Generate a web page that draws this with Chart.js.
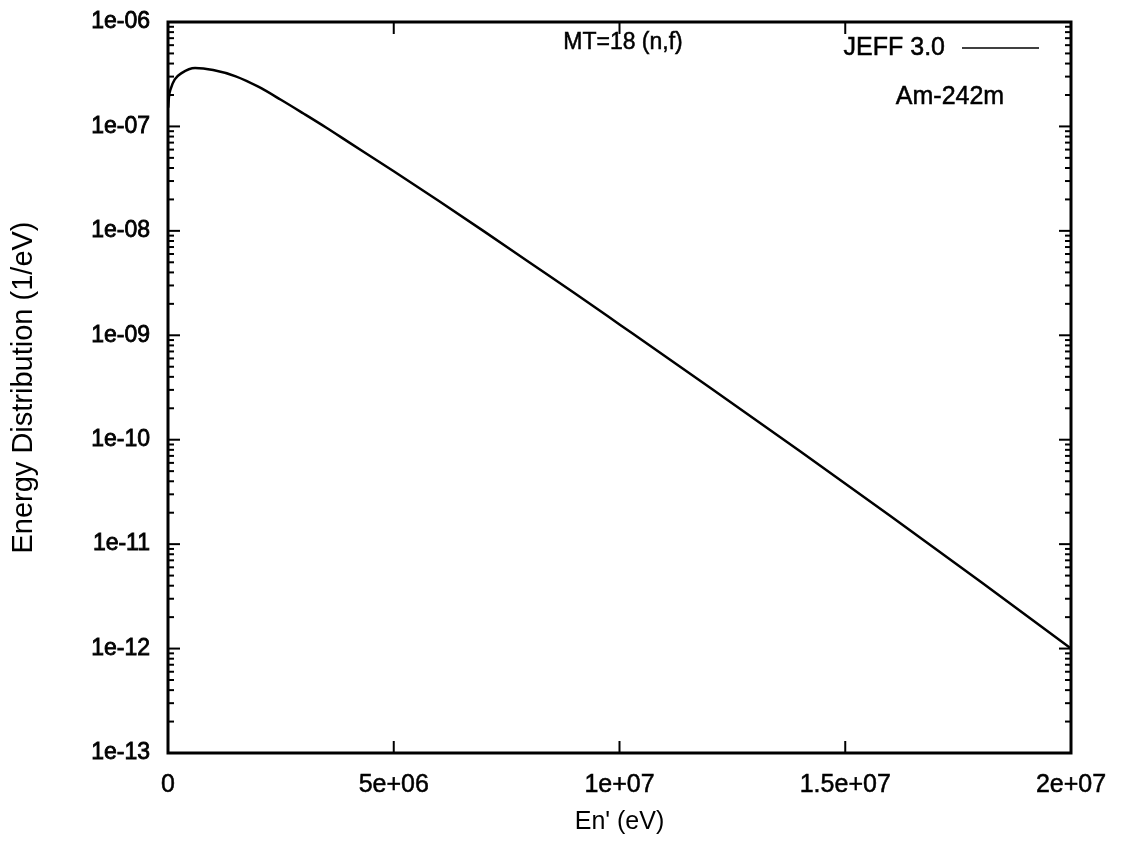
<!DOCTYPE html>
<html>
<head>
<meta charset="utf-8">
<title>Am-242m MT=18 (n,f) energy distribution</title>
<script src="https://cdn.jsdelivr.net/npm/chart.js@4.4.1/dist/chart.umd.min.js"></script>
<style>
  html, body { margin: 0; padding: 0; background: #fff; }
  #wrap { width: 1123px; height: 844px; }
</style>
</head>
<body>
<div id="wrap"><canvas id="spectrum" width="1123" height="844"></canvas></div>
<script>
  // outgoing neutron energy (eV)
  const energies = [
    5e3, 2e4, 6e4, 1.5e5, 3e5, 6e5, 1e6, 1.5e6, 2e6, 2.5e6, 3e6, 3.5e6, 4e6,
    5e6, 6e6, 7e6, 8e6, 9e6, 1e7, 1.2e7, 1.4e7, 1.6e7, 1.8e7, 2e7
  ];
  // energy distribution (1/eV), JEFF 3.0
  const distribution = [
    1.51e-7, 1.9e-7, 2.29e-7, 2.82e-7, 3.24e-7, 3.63e-7, 3.47e-7, 3.02e-7, 2.4e-7, 1.8e-7, 1.33e-7, 9.77e-8, 7.08e-8,
    3.72e-8, 1.93e-8, 9.89e-9, 5.01e-9, 2.54e-9, 1.27e-9, 3.16e-10, 7.76e-11, 1.86e-11, 4.37e-12, 1.0e-12
  ];

  const xTicks = [0, 5e6, 1e7, 1.5e7, 2e7];
  const xTickLabels = ["0", "5e+06", "1e+07", "1.5e+07", "2e+07"];
  const yTicks = [1e-13, 1e-12, 1e-11, 1e-10, 1e-9, 1e-8, 1e-7, 1e-6];
  const yTickLabels = ["1e-13", "1e-12", "1e-11", "1e-10", "1e-09", "1e-08", "1e-07", "1e-06"];

  const FONT = "'Liberation Sans', Arial, Helvetica, sans-serif";

  // gnuplot style box with inward ticks on all four sides
  const frameTicks = {
    id: "frameTicks",
    afterDatasetsDraw(chart) {
      const { ctx, chartArea: a, scales: { x, y } } = chart;
      const seg = (x1, y1, x2, y2) => {
        ctx.beginPath();
        ctx.moveTo(x1, y1);
        ctx.lineTo(x2, y2);
        ctx.stroke();
      };
      ctx.save();
      ctx.strokeStyle = "#000";
      ctx.lineWidth = 2;
      xTicks.forEach((v) => {
        const px = x.getPixelForValue(v);
        seg(px, a.bottom, px, a.bottom - 12);
        seg(px, a.top, px, a.top + 12);
      });
      yTicks.forEach((v, i) => {
        const py = y.getPixelForValue(v);
        seg(a.left, py, a.left + 12, py);
        seg(a.right, py, a.right - 12, py);
        if (i === yTicks.length - 1) return;
        // minor ticks 2..9 inside each decade
        for (let m = 2; m <= 9; m++) {
          const pm = y.getPixelForValue(v * m);
          seg(a.left, pm, a.left + 6, pm);
          seg(a.right, pm, a.right - 6, pm);
        }
      });
      ctx.lineWidth = 3;
      ctx.strokeRect(a.left, a.top, a.right - a.left, a.bottom - a.top);
      ctx.restore();
    },
  };

  // in-plot labels and the key
  const labels = {
    id: "labels",
    afterDraw(chart) {
      const { ctx, chartArea: a } = chart;
      const text = (s, x, y) => {
        ctx.fillText(s, x, y);
        ctx.strokeText(s, x, y);
      };
      ctx.save();
      ctx.fillStyle = "#000";
      ctx.strokeStyle = "#000";
      ctx.lineWidth = 0.5;
      ctx.textBaseline = "middle";
      ctx.font = "23px " + FONT;
      ctx.textAlign = "center";
      text("MT=18 (n,f)", a.left + 455, a.top + 21);
      ctx.font = "25px " + FONT;
      ctx.textAlign = "right";
      text("JEFF 3.0", a.left + 777, a.top + 26);
      ctx.textAlign = "center";
      text("Am-242m", a.left + 782, a.top + 75);
      ctx.lineWidth = 1.5;
      ctx.beginPath();
      ctx.moveTo(a.left + 794, a.top + 26);
      ctx.lineTo(a.left + 871, a.top + 26);
      ctx.stroke();
      ctx.restore();
    },
  };

  const ctx = document.getElementById("spectrum").getContext("2d");
  new Chart(ctx, {
    type: "line",
    data: {
      datasets: [
        {
          label: "JEFF 3.0",
          data: energies.map((e, i) => ({ x: e, y: distribution[i] })),
          borderColor: "#000",
          borderWidth: 2.5,
          pointRadius: 0,
          fill: false,
          cubicInterpolationMode: "monotone",
        },
      ],
    },
    options: {
      responsive: false,
      animation: false,
      devicePixelRatio: 1,
      layout: { padding: { top: 22, right: 52, left: 0, bottom: 0 } },
      plugins: { legend: { display: false }, tooltip: { enabled: false } },
      scales: {
        x: {
          type: "linear",
          min: 0,
          max: 2e7,
          afterBuildTicks: (s) => { s.ticks = xTicks.map((v) => ({ value: v })); },
          afterFit: (s) => {
            s.height = 91;
            s.paddingLeft = 0;
            s.paddingRight = 0;
          },
          ticks: {
            callback: (v, i) => xTickLabels[i],
            font: { family: FONT, size: 25 },
            color: "#000",
            textStrokeColor: "#000",
            textStrokeWidth: 0.5,
            padding: 17,
            maxRotation: 0,
            autoSkip: false,
          },
          grid: { display: false, drawTicks: false },
          border: { display: false },
          title: {
            display: true,
            text: "En' (eV)",
            font: { family: FONT, size: 25 },
            color: "#000",
            padding: { top: 0, bottom: 7 },
          },
        },
        y: {
          type: "logarithmic",
          min: 1e-13,
          max: 1e-6,
          afterBuildTicks: (s) => { s.ticks = yTicks.map((v) => ({ value: v })); },
          afterFit: (s) => {
            s.width = 168;
            s.paddingTop = 0;
            s.paddingBottom = 0;
          },
          ticks: {
            callback: (v, i) => yTickLabels[i],
            font: { family: FONT, size: 23 },
            color: "#000",
            textStrokeColor: "#000",
            textStrokeWidth: 0.8,
            padding: 18,
            autoSkip: false,
          },
          grid: { display: false, drawTicks: false },
          border: { display: false },
          title: {
            display: true,
            text: "Energy Distribution (1/eV)",
            font: { family: FONT, size: 29 },
            color: "#000",
            padding: { top: 7, bottom: 0 },
          },
        },
      },
    },
    plugins: [frameTicks, labels],
  });
</script>
</body>
</html>
